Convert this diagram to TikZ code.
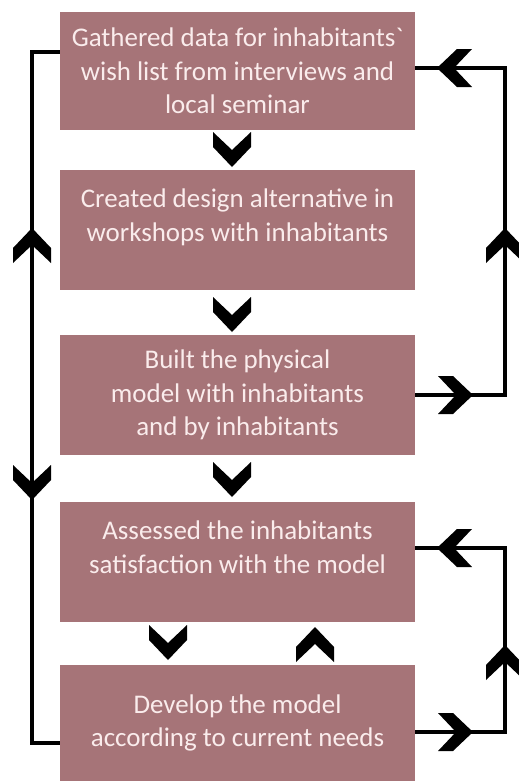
\documentclass[tikz,border=0pt]{standalone}
\usepackage{fontspec}
\setmainfont{Carlito}
\usepackage{tikz}
\usetikzlibrary{positioning,calc}
\usepackage{xcolor}
\definecolor{stagefill}{RGB}{166,116,120}
\definecolor{stagetext}{RGB}{250,236,236}

\tikzset{
  stage/.style={fill=stagefill,text=stagetext,align=center,minimum width=10.65cm,
    minimum height=3.6cm,inner sep=0pt,font=\fontsize{23}{28.5}\selectfont},
  lifted/.style={text depth=0.9cm},
  flow/.style={line width=0.12cm},
  chev/.pic={\fill (0,0) -- (-20,19) -- (-35,19) -- (-17,0) -- (-35,-19) -- (-20,-19) -- cycle;}
}

\begin{document}
\begin{tikzpicture}[x=0.03cm,y=-0.03cm]
\useasboundingbox[fill=white] (0,0) rectangle (518,781);
\node[stage,minimum height=3.54cm] (gather) at (237.5,71) {Gathered data for inhabitants\textasciigrave\\wish list from interviews and\\local seminar};
\node[stage,lifted] (create) at (237.5,230) {Created design alternative in\\workshops with inhabitants};
\node[stage] (build) at (237.5,395) {Built the physical\\model with inhabitants\\and by inhabitants};
\node[stage,lifted] (assess) at (237.5,562) {Assessed the inhabitants\\satisfaction with the model};
\node[stage,minimum height=3.48cm] (develop) at (237.5,723) {Develop the model\\according to current needs};
% steps between the boxes
\pic[rotate=-90] at (232,167) {chev};
\pic[rotate=-90] at (232,332) {chev};
\pic[rotate=-90] at (232,497) {chev};
\pic[rotate=-90] at (168,660) {chev};
\pic[rotate=90] at (315,627) {chev};
% outer loops
\draw[flow] ([yshift=0.57cm]gather.west) -- ++(-28,0) |- ([yshift=-0.6cm]develop.west);
\pic[rotate=90] at (32,228) {chev};
\pic[rotate=-90] at (32,500) {chev};
\draw[flow] (build.east) -- ++(90,0) |- ([yshift=0.09cm]gather.east);
\pic at (473,395) {chev};
\pic[rotate=90] at (505,228) {chev};
\pic[rotate=180] at (437,68) {chev};
\draw[flow] ([yshift=-0.27cm]develop.east) -- ++(90,0) |- ([yshift=0.42cm]assess.east);
\pic at (473,732) {chev};
\pic[rotate=90] at (505,645) {chev};
\pic[rotate=180] at (437,548) {chev};
\end{tikzpicture}
\end{document}
